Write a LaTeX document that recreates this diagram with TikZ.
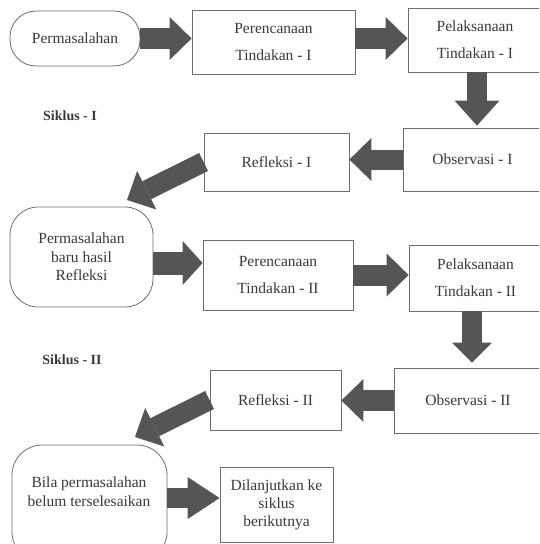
\documentclass[tikz,border=0pt]{standalone}
\usepackage{fontspec}
\setmainfont{Liberation Serif}
\usetikzlibrary{arrows.meta,calc}
\definecolor{boxgray}{HTML}{6E6E6E}
\definecolor{arrgray}{HTML}{555555}
\definecolor{txt}{HTML}{3A3A3A}
\begin{document}
\begin{tikzpicture}[x=1pt,y=-1pt,
  box/.style={draw=boxgray, line width=0.8pt, text=txt, font=\fontsize{15.5}{27}\selectfont, align=center, inner sep=0pt},
  tight/.style={font=\fontsize{15.5}{18.5}\selectfont},
  blk/.style={draw=arrgray, line width=21pt, -{Triangle[width=43pt,length=22pt,line width=0pt]}},
  lbl/.style={text=txt, font=\fontsize{14}{16}\selectfont\bfseries, inner sep=0pt}
]
\useasboundingbox[fill=white] (0,0) rectangle (539,544);
\clip (0,0) rectangle (539,544);

% Siklus I
\node[box, rounded corners=26pt, minimum width=130, minimum height=55] (p1) at (75,38.5) {Permasalahan};
\node[box, minimum width=163, minimum height=64] (pr1) at (273.5,42) {Perencanaan\\Tindakan - I};
\node[box, minimum width=134, minimum height=64] (pl1) at (475,40) {Pelaksanaan\\Tindakan - I};
\node[box, minimum width=139, minimum height=63] (ob1) at (472.5,159.5) {Observasi - I};
\node[box, minimum width=145, minimum height=58] (rf1) at (276.5,162) {Refleksi - I};
\node[lbl] (s1) at (70,116) {Siklus - I};

% Siklus II
\node[box, tight, rounded corners=28pt, minimum width=143, minimum height=100] (p2) at (81.5,257) {Permasalahan\\baru hasil\\Refleksi};
\node[box, minimum width=150, minimum height=70] (pr2) at (278,275) {Perencanaan\\Tindakan - II};
\node[box, minimum width=133, minimum height=66] (pl2) at (475.5,278) {Pelaksanaan\\Tindakan - II};
\node[box, minimum width=148, minimum height=65] (ob2) at (468,400.5) {Observasi - II};
\node[box, minimum width=131, minimum height=60] (rf2) at (275.5,400) {Refleksi - II};
\node[lbl] (s2) at (72,360) {Siklus - II};

% end
\node[box, rounded corners=30pt, minimum width=155, minimum height=117] (p3) at (89.5,503.5) {};
\node[text=txt, font=\fontsize{15.5}{19}\selectfont, align=center, inner sep=0pt] (p3t) at (89,492) {Bila permasalahan\\belum terselesaikan};
\node[box, tight, font=\fontsize{15.5}{18}\selectfont, minimum width=113, minimum height=75] (dl) at (276.5,504.5) {Dilanjutkan ke\\siklus\\berikutnya};

% connectors
\draw[blk] (p1.east) -- (p1.east -| pr1.west);
\coordinate (a2) at ([yshift=3.5pt]pr1.east);
\draw[blk] (a2) -- (a2 -| pl1.west);
\coordinate (a3) at ([xshift=2pt]pl1.south);
\draw[blk, line width=20pt, -{Triangle[width=45pt,length=25pt,line width=0pt]}] (a3) -- ([yshift=2pt]a3 |- ob1.north);
\draw[blk, line width=20pt] (ob1.west) -- (ob1.west -| rf1.east);
\coordinate (t1) at (127,200);
\draw[blk, line width=20pt] (rf1.west) -- (t1);
\coordinate (a6) at ([yshift=-6pt]p2.east);
\draw[blk, line width=23pt, -{Triangle[width=44pt,length=20pt,line width=0pt]}] (a6) -- (a6 -| pr2.west);
\draw[blk] (pr2.east) -- (pr2.east -| pl2.west);
\coordinate (a8) at ([xshift=-3.5pt]pl2.south);
\draw[blk, line width=20pt, -{Triangle[width=40pt,length=20pt,line width=0pt]}] (a8) -- ([yshift=5pt]a8 |- ob2.north);
\draw[blk] (ob2.west) -- (ob2.west -| rf2.east);
\coordinate (t2) at (135,437);
\draw[blk, line width=20pt] (rf2.west) -- (t2);
\coordinate (a11) at (p3.east |- 0,498);
\draw[blk, line width=20pt, -{Triangle[width=42pt,length=32pt,line width=0pt]}] (a11) -- (a11 -| dl.west);
\end{tikzpicture}
\end{document}
